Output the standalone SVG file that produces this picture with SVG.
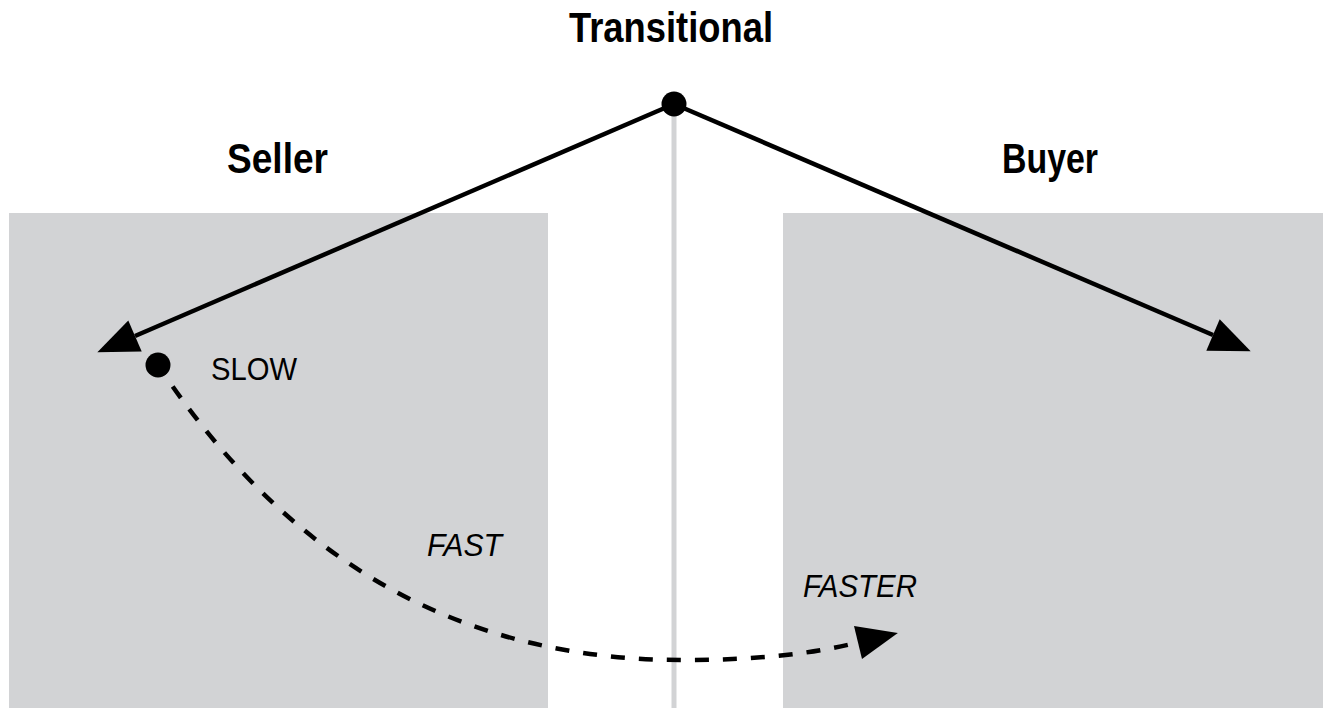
<svg xmlns="http://www.w3.org/2000/svg" width="1323" height="708" viewBox="0 0 1323 708">
  <style>
    .zone { fill: #d2d3d5; }
    .divider { stroke: #d2d3d5; stroke-width: 5; fill: none; }
    .title { font-family: "Liberation Sans", Arial, sans-serif; font-weight: bold; font-size: 42px; fill: #000; }
    .speed { font-family: "Liberation Sans", Arial, sans-serif; font-size: 32px; fill: #000; }
    .speed.it { font-style: italic; }
    .solid { stroke: #000; stroke-width: 4.5; fill: none; }
    .dashed { stroke: #000; stroke-width: 4.5; fill: none; stroke-dasharray: 14 14; stroke-dashoffset: 2; }
    .dot { fill: #000; }
  </style>
  <defs>
    <marker id="head" markerUnits="userSpaceOnUse" markerWidth="42" markerHeight="36" viewBox="0 0 42 36" refX="0" refY="18" orient="auto" overflow="visible">
      <path d="M0,1 L41,18 L0,35 z" fill="#000"/>
    </marker>
  </defs>

  <rect width="1323" height="708" fill="#fff"/>

  <!-- background zones -->
  <g id="seller-zone"><rect class="zone" x="9" y="213" width="539" height="495"/></g>
  <g id="buyer-zone"><rect class="zone" x="783" y="213" width="540" height="495"/></g>
  <g id="divider"><line class="divider" x1="674" y1="104" x2="674" y2="708"/></g>

  <!-- connectors -->
  <g id="connectors">
    <line class="solid" x1="674" y1="104" x2="135" y2="336" marker-end="url(#head)"/>
    <line class="solid" x1="674" y1="104" x2="1213" y2="335" marker-end="url(#head)"/>
    <path class="dashed" d="M158,365 C301,581 483,660 683,660 C743,660 800,656.5 858,642.5" marker-end="url(#head)"/>
  </g>

  <!-- nodes -->
  <g id="transitional">
    <circle class="dot" cx="674" cy="104" r="12.5"/>
    <text class="title" x="569" y="42" textLength="204" lengthAdjust="spacingAndGlyphs">Transitional</text>
  </g>
  <g id="seller">
    <text class="title" x="227" y="173" textLength="101" lengthAdjust="spacingAndGlyphs">Seller</text>
  </g>
  <g id="buyer">
    <text class="title" x="1002" y="173" textLength="96" lengthAdjust="spacingAndGlyphs">Buyer</text>
  </g>
  <g id="slow">
    <circle class="dot" cx="158" cy="365" r="12.5"/>
    <text class="speed" x="211" y="380" textLength="86" lengthAdjust="spacingAndGlyphs">SLOW</text>
  </g>
  <g id="fast">
    <text class="speed it" x="427" y="556" textLength="75" lengthAdjust="spacingAndGlyphs">FAST</text>
  </g>
  <g id="faster">
    <text class="speed it" x="803" y="597" textLength="114" lengthAdjust="spacingAndGlyphs">FASTER</text>
  </g>
</svg>
